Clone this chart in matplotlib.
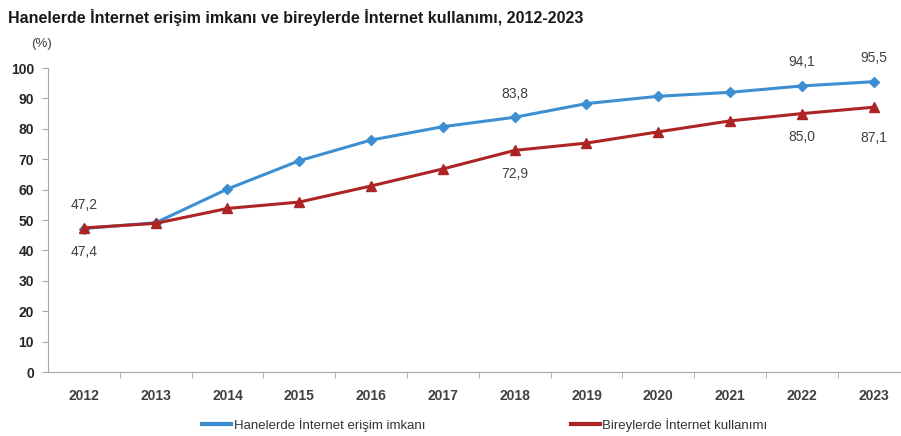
import numpy as np
import matplotlib
matplotlib.use("Agg")
import matplotlib.pyplot as plt

plt.rcParams['font.family'] = ['Liberation Sans', 'DejaVu Sans']

years = ['2012', '2013', '2014', '2015', '2016', '2017', '2018', '2019', '2020', '2021', '2022', '2023']
households = [47.2, 49.1, 60.2, 69.5, 76.3, 80.7, 83.8, 88.3, 90.7, 92.0, 94.1, 95.5]
individuals = [47.4, 48.9, 53.8, 55.9, 61.2, 66.8, 72.9, 75.3, 79.0, 82.6, 85.0, 87.1]

# which points get value labels (offset in points from the marker)
labels_hh = {0: 12, 6: 12, 10: 12, 11: 12}
labels_ind = {0: -12, 6: -12, 10: -12, 11: -17}

blue = '#3d8fd1'
red = '#ad2424'
gray = '#a6a6a6'

fig = plt.figure(figsize=(9.01, 4.36), dpi=100)
ax = fig.add_axes([48 / 901, 1 - 372 / 436, 12 * 71.8 / 901, (372 - 68) / 436])

x = np.arange(len(years))
ax.plot(x, households, color=blue, lw=2.2, marker='D', ms=5, zorder=3,
        label='Hanelerde İnternet erişim imkanı')
ax.plot(x, individuals, color=red, lw=2.2, marker='^', ms=6.5, zorder=3,
        label='Bireylerde İnternet kullanımı')

def fmt(v):
    return f'{v:.1f}'.replace('.', ',')

for i, off in labels_hh.items():
    ax.annotate(fmt(households[i]), (x[i], households[i]), xytext=(0, off),
                textcoords='offset points', ha='center', va='bottom',
                fontsize=10, color='#404040')
for i, off in labels_ind.items():
    ax.annotate(fmt(individuals[i]), (x[i], individuals[i]), xytext=(0, off),
                textcoords='offset points', ha='center', va='top',
                fontsize=10, color='#404040')

ax.set_xlim(-0.5, 11.5)
ax.set_ylim(0, 100)
ax.set_yticks(range(0, 101, 10))
ax.set_xticks(x)
ax.set_xticklabels(years)
ax.set_xticks(np.arange(0.5, 11.5, 1), minor=True)
ax.tick_params(axis='x', which='major', length=0, pad=12, labelsize=10, labelcolor='#404040')
ax.tick_params(axis='x', which='minor', length=4, color=gray, direction='out')
ax.tick_params(axis='y', length=4, color=gray, labelsize=10, labelcolor='#262626', pad=6)
for lab in ax.get_xticklabels() + ax.get_yticklabels():
    lab.set_fontweight('bold')

for s in ['top', 'right']:
    ax.spines[s].set_visible(False)
ax.spines['left'].set_color(gray)
ax.spines['bottom'].set_color(gray)

fig.text(8 / 901, 1 - 17 / 436, 'Hanelerde İnternet erişim imkanı ve bireylerde İnternet kullanımı, 2012-2023',
         fontsize=11.5, fontweight='bold', va='center', ha='left', color='#1a1a1a')
fig.text(42 / 901, 1 - 44 / 436, '(%)', fontsize=9.5, va='center', ha='center', color='#404040')

leg = fig.legend(loc='center', bbox_to_anchor=(485 / 901, 1 - 425 / 436), ncol=2, frameon=False,
                 fontsize=9.5, handlelength=2.2, handletextpad=0.2, columnspacing=11,
                 markerscale=0)
for h in leg.legend_handles:
    h.set_marker('')
    h.set_linewidth(3)
for t in leg.get_texts():
    t.set_color('#333333')

fig.savefig('out.png', dpi=100)
